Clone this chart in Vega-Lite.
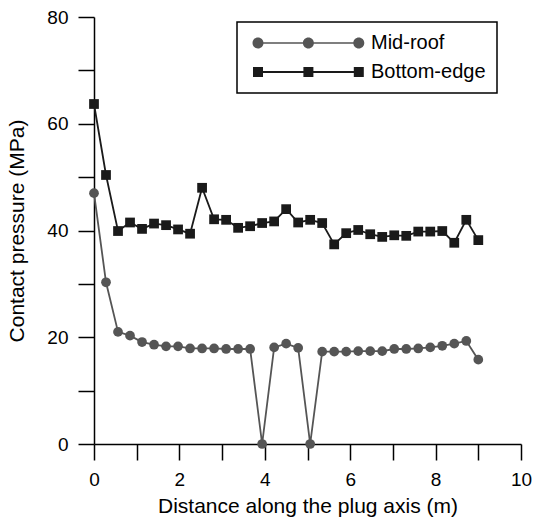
{
  "$schema": "https://vega.github.io/schema/vega-lite/v6.json",
  "width": 427,
  "height": 427,
  "autosize": "none",
  "padding": {"left": 94, "top": 17, "right": 12, "bottom": 74},
  "background": "white",
  "config": {
    "view": {"stroke": null},
    "font": "Liberation Sans",
    "axis": {
      "domainColor": "black", "domainWidth": 1.5, "tickColor": "black", "tickWidth": 1.5,
      "labelFont": "Liberation Sans", "labelFontSize": 19, "labelColor": "black",
      "titleFont": "Liberation Sans", "titleFontSize": 21, "titleFontWeight": "normal", "titleColor": "black",
      "grid": false, "tickSize": 16, "labelPadding": 10, "labelFlush": false, "labelOverlap": false
    },
    "legend": {
      "strokeColor": "black", "strokeWidth": 1.5, "fillColor": "white", "padding": 11,
      "labelFont": "Liberation Sans", "labelFontSize": 20, "labelColor": "black",
      "symbolSize": 144, "symbolStrokeWidth": 0, "labelOffset": 103, "rowPadding": 9
    }
  },
  "data": {"values": [
    {"series": "Mid-roof", "x": 0, "y": 47.0},
    {"series": "Mid-roof", "x": 0.28125, "y": 30.3},
    {"series": "Mid-roof", "x": 0.5625, "y": 21.0},
    {"series": "Mid-roof", "x": 0.84375, "y": 20.3},
    {"series": "Mid-roof", "x": 1.125, "y": 19.1},
    {"series": "Mid-roof", "x": 1.40625, "y": 18.6},
    {"series": "Mid-roof", "x": 1.6875, "y": 18.3},
    {"series": "Mid-roof", "x": 1.96875, "y": 18.3},
    {"series": "Mid-roof", "x": 2.25, "y": 17.9},
    {"series": "Mid-roof", "x": 2.53125, "y": 17.9},
    {"series": "Mid-roof", "x": 2.8125, "y": 17.9},
    {"series": "Mid-roof", "x": 3.09375, "y": 17.8},
    {"series": "Mid-roof", "x": 3.375, "y": 17.8},
    {"series": "Mid-roof", "x": 3.65625, "y": 17.8},
    {"series": "Mid-roof", "x": 3.9375, "y": 0},
    {"series": "Mid-roof", "x": 4.21875, "y": 18.1},
    {"series": "Mid-roof", "x": 4.5, "y": 18.8},
    {"series": "Mid-roof", "x": 4.78125, "y": 18.0},
    {"series": "Mid-roof", "x": 5.0625, "y": 0},
    {"series": "Mid-roof", "x": 5.34375, "y": 17.3},
    {"series": "Mid-roof", "x": 5.625, "y": 17.3},
    {"series": "Mid-roof", "x": 5.90625, "y": 17.3},
    {"series": "Mid-roof", "x": 6.1875, "y": 17.4},
    {"series": "Mid-roof", "x": 6.46875, "y": 17.4},
    {"series": "Mid-roof", "x": 6.75, "y": 17.4},
    {"series": "Mid-roof", "x": 7.03125, "y": 17.8},
    {"series": "Mid-roof", "x": 7.3125, "y": 17.8},
    {"series": "Mid-roof", "x": 7.59375, "y": 17.9},
    {"series": "Mid-roof", "x": 7.875, "y": 18.1},
    {"series": "Mid-roof", "x": 8.15625, "y": 18.4},
    {"series": "Mid-roof", "x": 8.4375, "y": 18.8},
    {"series": "Mid-roof", "x": 8.71875, "y": 19.3},
    {"series": "Mid-roof", "x": 9.0, "y": 15.8},
    {"series": "Bottom-edge", "x": 0, "y": 63.7},
    {"series": "Bottom-edge", "x": 0.28125, "y": 50.4},
    {"series": "Bottom-edge", "x": 0.5625, "y": 39.9},
    {"series": "Bottom-edge", "x": 0.84375, "y": 41.5},
    {"series": "Bottom-edge", "x": 1.125, "y": 40.3},
    {"series": "Bottom-edge", "x": 1.40625, "y": 41.3},
    {"series": "Bottom-edge", "x": 1.6875, "y": 41.0},
    {"series": "Bottom-edge", "x": 1.96875, "y": 40.2},
    {"series": "Bottom-edge", "x": 2.25, "y": 39.4},
    {"series": "Bottom-edge", "x": 2.53125, "y": 48.0},
    {"series": "Bottom-edge", "x": 2.8125, "y": 42.1},
    {"series": "Bottom-edge", "x": 3.09375, "y": 42.0},
    {"series": "Bottom-edge", "x": 3.375, "y": 40.5},
    {"series": "Bottom-edge", "x": 3.65625, "y": 40.8},
    {"series": "Bottom-edge", "x": 3.9375, "y": 41.4},
    {"series": "Bottom-edge", "x": 4.21875, "y": 41.7},
    {"series": "Bottom-edge", "x": 4.5, "y": 44.0},
    {"series": "Bottom-edge", "x": 4.78125, "y": 41.5},
    {"series": "Bottom-edge", "x": 5.0625, "y": 42.0},
    {"series": "Bottom-edge", "x": 5.34375, "y": 41.4},
    {"series": "Bottom-edge", "x": 5.625, "y": 37.4},
    {"series": "Bottom-edge", "x": 5.90625, "y": 39.5},
    {"series": "Bottom-edge", "x": 6.1875, "y": 40.1},
    {"series": "Bottom-edge", "x": 6.46875, "y": 39.3},
    {"series": "Bottom-edge", "x": 6.75, "y": 38.8},
    {"series": "Bottom-edge", "x": 7.03125, "y": 39.1},
    {"series": "Bottom-edge", "x": 7.3125, "y": 39.0},
    {"series": "Bottom-edge", "x": 7.59375, "y": 39.8},
    {"series": "Bottom-edge", "x": 7.875, "y": 39.8},
    {"series": "Bottom-edge", "x": 8.15625, "y": 39.9},
    {"series": "Bottom-edge", "x": 8.4375, "y": 37.7},
    {"series": "Bottom-edge", "x": 8.71875, "y": 42.0},
    {"series": "Bottom-edge", "x": 9.0, "y": 38.2}
  ]},
  "encoding": {
    "x": {
      "field": "x", "type": "quantitative",
      "scale": {"domain": [0, 10], "nice": false, "zero": false},
      "axis": {
        "title": "Distance along the plug axis (m)",
        "values": [0, 1, 2, 3, 4, 5, 6, 7, 8, 9, 10],
        "labelExpr": "datum.value % 2 === 0 ? datum.label : ''",
        "titlePadding": 6,
        "encode": {"ticks": {"update": {"y2": {"signal": "datum.value % 2 === 0 ? 16 : 11"}}}}
      }
    },
    "y": {
      "field": "y", "type": "quantitative",
      "scale": {"domain": [0, 80], "nice": false},
      "axis": {
        "title": "Contact pressure (MPa)",
        "values": [0, 10, 20, 30, 40, 50, 60, 70, 80],
        "labelExpr": "datum.value % 20 === 0 ? datum.label : ''",
        "titlePadding": 19,
        "encode": {"ticks": {"update": {"x2": {"signal": "datum.value % 20 === 0 ? -16 : -11"}}}}
      }
    },
    "color": {
      "field": "series", "type": "nominal",
      "scale": {"domain": ["Mid-roof", "Bottom-edge"], "range": ["#555555", "#1a1a1a"]},
      "legend": {
        "orient": "none", "legendX": 143, "legendY": 5, "title": null,
        "encoding": {"symbols": {
          "shape": {"value": {"expr": "datum.value === 'Mid-roof' ? 'M0,-0.125H16.8V0.125H0Z M-0.917,0C-0.917,-0.506,-0.506,-0.917,0,-0.917C0.506,-0.917,0.917,-0.506,0.917,0C0.917,0.506,0.506,0.917,0,0.917C-0.506,0.917,-0.917,0.506,-0.917,0Z M7.483,0C7.483,-0.506,7.894,-0.917,8.4,-0.917C8.906,-0.917,9.317,-0.506,9.317,0C9.317,0.506,8.906,0.917,8.4,0.917C7.894,0.917,7.483,0.506,7.483,0Z M15.883,0C15.883,-0.506,16.294,-0.917,16.8,-0.917C17.306,-0.917,17.717,-0.506,17.717,0C17.717,0.506,17.306,0.917,16.8,0.917C16.294,0.917,15.883,0.506,15.883,0Z' : 'M0,-0.167H16.8V0.167H0Z M-0.833,-0.833H0.833V0.833H-0.833Z M7.567,-0.833H9.233V0.833H7.567Z M15.967,-0.833H17.633V0.833H15.967Z'"}},
          "fill": {"value": {"expr": "scale('color', datum.value)"}},
          "fillOpacity": {"value": 1},
          "strokeWidth": {"value": 0},
          "opacity": {"value": 1}
        }}
      }
    }
  },
  "layer": [
    {"mark": {"type": "line", "strokeWidth": 1.8}},
    {
      "transform": [{"filter": "datum.series === 'Mid-roof'"}],
      "mark": {"type": "point", "filled": true, "size": 95, "opacity": 1, "shape": "circle"}
    },
    {
      "transform": [{"filter": "datum.series === 'Bottom-edge'"}],
      "mark": {"type": "point", "filled": true, "size": 95, "opacity": 1, "shape": "square"}
    }
  ]
}
